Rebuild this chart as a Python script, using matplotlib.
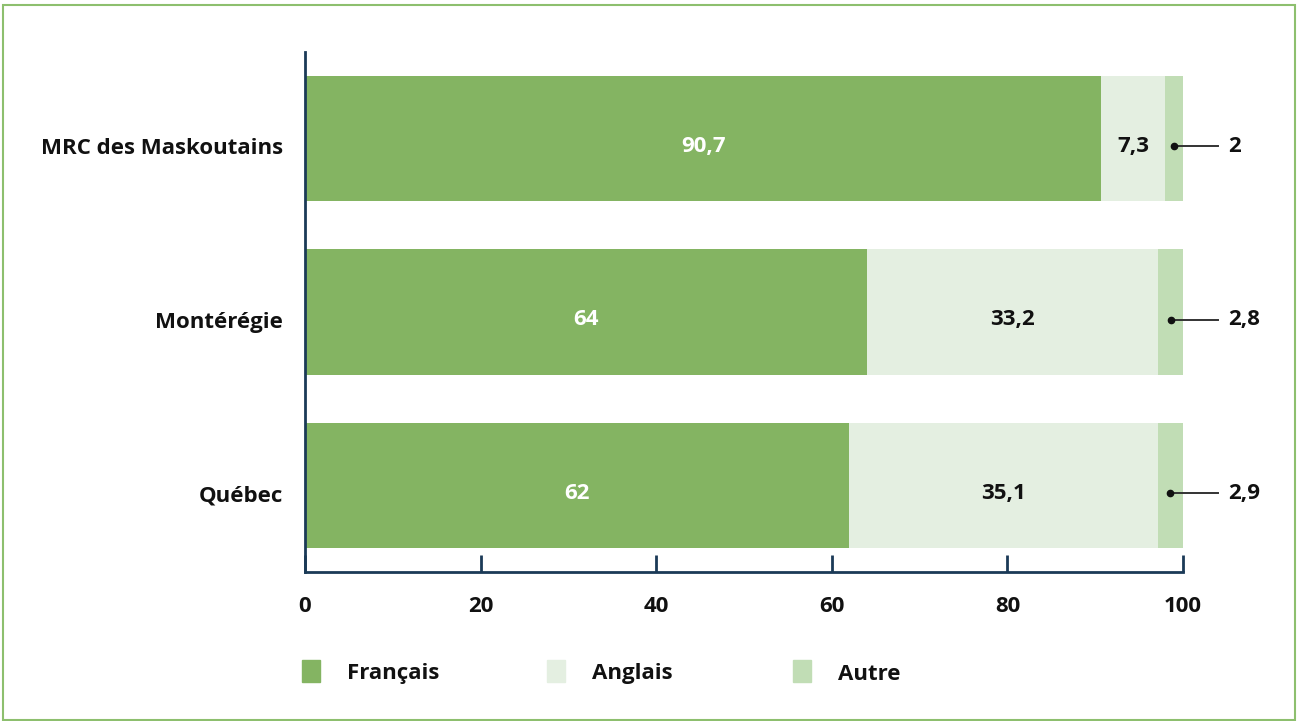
import matplotlib
matplotlib.use("Agg")
import matplotlib.pyplot as plt
from matplotlib.patches import Rectangle

plt.rcParams['font.family'] = ['Open Sans', 'DejaVu Sans']

categories = ["MRC des Maskoutains", "Montérégie", "Québec"]
francais = [90.7, 64, 62]
anglais = [7.3, 33.2, 35.1]
autre = [2, 2.8, 2.9]
series_names = ["Français", "Anglais", "Autre"]
colors = ["#84B462", "#E4EFE1", "#C1DDB5"]
xticks = [0, 20, 40, 60, 80, 100]

def fmt(v):
    return ("%g" % v).replace(".", ",")

W, H = 1298, 721
FS = 16
fig = plt.figure(figsize=(W / 100, H / 100), dpi=100)
ax = fig.add_axes([305 / W, 1 - 572 / H, (1183 - 305) / W, (572 - 52) / H])

# figure border
fig.patches.append(Rectangle((3 / W, 1 / H), (1295 - 3) / W, (716 - 1) / H,
                             transform=fig.transFigure, fill=False,
                             edgecolor="#8DBF6E", linewidth=1.5))

ypos = [2, 1, 0]
bh = 125 / 173
off = 0.045  # text sits slightly below bar centre
ax.barh(ypos, francais, height=bh, color=colors[0], linewidth=0)
ax.barh(ypos, anglais, left=francais, height=bh, color=colors[1], linewidth=0)
lefts3 = [a + b for a, b in zip(francais, anglais)]
ax.barh(ypos, autre, left=lefts3, height=bh, color=colors[2], linewidth=0)

for y, f, a, o, l3 in zip(ypos, francais, anglais, autre, lefts3):
    yt = y - off
    ax.text(f / 2, yt, fmt(f), ha="center", va="center", color="white",
            fontsize=FS, fontweight="bold")
    ax.text(f + a / 2, yt, fmt(a), ha="center", va="center", color="#111111",
            fontsize=FS, fontweight="bold")
    cx = l3 + o / 2
    ax.plot([cx, 104.0], [yt, yt], color="#333333", lw=1.4, clip_on=False)
    ax.plot([cx], [yt], marker="o", ms=4.5, color="#111111", clip_on=False)
    ax.text(105.1, yt, fmt(o), ha="left", va="center", color="#111111",
            fontsize=FS, fontweight="bold", clip_on=False)

ax.set_xlim(0, 100)
ax.set_ylim(-0.5, 2.5)
ax.set_yticks([y - off for y in ypos])
ax.set_yticklabels(categories, fontsize=FS, fontweight="bold", color="#111111")
ax.set_xticks(xticks)
ax.set_xticklabels([str(t) for t in xticks], fontsize=FS, fontweight="bold",
                   color="#111111")
spine_color = "#1B3A57"
for s in ["top", "right"]:
    ax.spines[s].set_visible(False)
for s in ["left", "bottom"]:
    ax.spines[s].set_color(spine_color)
    ax.spines[s].set_linewidth(2)
ax.tick_params(axis="x", direction="in", length=12, width=2, color=spine_color, pad=17)
ax.tick_params(axis="y", length=0, pad=16)

# legend
lx = [302, 547, 793]
for x, name, c in zip(lx, series_names, colors):
    fig.patches.append(Rectangle((x / W, 1 - 682 / H), 18 / W, 22 / H,
                                 transform=fig.transFigure, color=c))
    fig.text((x + 45) / W, 1 - 674 / H, name, ha="left", va="center",
             fontsize=FS, fontweight="bold", color="#111111")

fig.savefig("out.png", dpi=100)
